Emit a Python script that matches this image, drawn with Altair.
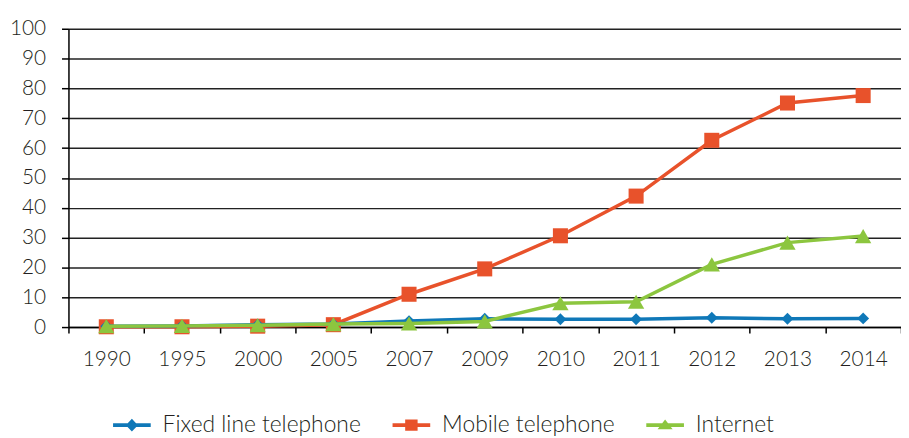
import altair as alt
import pandas as pd

years = ["1990", "1995", "2000", "2005", "2007", "2009", "2010", "2011", "2012", "2013", "2014"]
fixed = [0.3, 0.4, 0.8, 1.0, 2.0, 2.8, 2.6, 2.6, 3.1, 2.8, 2.9]
mobile = [0.1, 0.1, 0.3, 0.8, 11.0, 19.5, 30.6, 43.9, 62.6, 75.1, 77.6]
internet = [0.3, 0.4, 0.6, 1.0, 1.2, 1.9, 8.0, 8.5, 21.0, 28.3, 30.5]

series_names = ["Fixed line telephone", "Mobile telephone", "Internet"]
series_colors = ["#0F78B8", "#E8522B", "#8CC63F"]
y_ticks = list(range(0, 101, 10))

rows = []
for name, vals in zip(series_names, [fixed, mobile, internet]):
    for yr, v in zip(years, vals):
        rows.append({"year": yr, "series": name, "value": v})
df = pd.DataFrame(rows)

FONT = "Lato"
TEXT = "#231F20"

x_enc = alt.X(
    "year:N",
    sort=years,
    scale=alt.Scale(type="band", domain=years, paddingInner=0, paddingOuter=0),
    axis=alt.Axis(title=None, grid=False, tickBand="extent", tickSize=6, labelPadding=16,
                  labelAngle=0, labelFontSize=21),
)
y_enc = alt.Y(
    "value:Q",
    scale=alt.Scale(domain=[0, 100], nice=False),
    axis=alt.Axis(title=None, values=y_ticks, grid=True, tickSize=7, labelPadding=16,
                  labelFontSize=21),
)

styles = {
    "Mobile telephone": ("square", 230),
    "Fixed line telephone": ("diamond", 144),
    "Internet": ("triangle-up", 270),
}
draw_order = ["Mobile telephone", "Fixed line telephone", "Internet"]

layers = []
for name in draw_order:
    col = series_colors[series_names.index(name)]
    shape, size = styles[name]
    base = alt.Chart(df).transform_filter(alt.datum.series == name)
    layers.append(base.mark_line(color=col, strokeWidth=3.5).encode(x=x_enc, y=y_enc))
    layers.append(base.mark_point(filled=True, shape=shape, size=size, color=col, opacity=1,
                                  strokeWidth=0).encode(x=x_enc, y=y_enc))

legend_paths = [
    "M-1,-0.1 L1,-0.1 L1,0.1 L-1,0.1 Z M0,-0.34 L0.32,0 L0,0.34 L-0.32,0 Z",
    "M-1,-0.1 L1,-0.1 L1,0.1 L-1,0.1 Z M-0.33,-0.3 L0.33,-0.3 L0.33,0.3 L-0.33,0.3 Z",
    "M-1,-0.1 L1,-0.1 L1,0.1 L-1,0.1 Z M0,-0.3 L0.4,0.22 L-0.4,0.22 Z",
]

legend_layer = alt.Chart(df).transform_filter("false").mark_point(
    filled=True, opacity=1, strokeWidth=0
).encode(
    color=alt.Color("series:N", scale=alt.Scale(domain=series_names, range=series_colors),
                    legend=alt.Legend(title=None)),
    shape=alt.Shape("series:N", scale=alt.Scale(domain=series_names, range=legend_paths),
                    legend=alt.Legend(title=None)),
)
layers.append(legend_layer)

chart = alt.layer(*layers).properties(
    width=840,
    height=301,
    autosize=alt.AutoSizeParams(type="none"),
    padding={"left": 61, "top": 19, "right": 0, "bottom": 110},
).configure_view(stroke=None).configure_axis(
    labelFont=FONT, labelColor=TEXT, labelFontWeight=300, domainColor="#000000", domainWidth=1.5,
    tickColor="#000000", tickWidth=1.5, gridColor="#222222", gridWidth=1.5,
).configure_legend(
    orient="none", legendX=45, legendY=381, direction="horizontal",
    labelFont=FONT, labelFontSize=23, labelFontWeight=300, labelColor=TEXT, labelOffset=12,
    labelLimit=400, columnPadding=31, symbolSize=1444, symbolStrokeWidth=0, symbolOpacity=1,
)

chart.save("out.html", embed_options={"renderer": "svg", "actions": False})
